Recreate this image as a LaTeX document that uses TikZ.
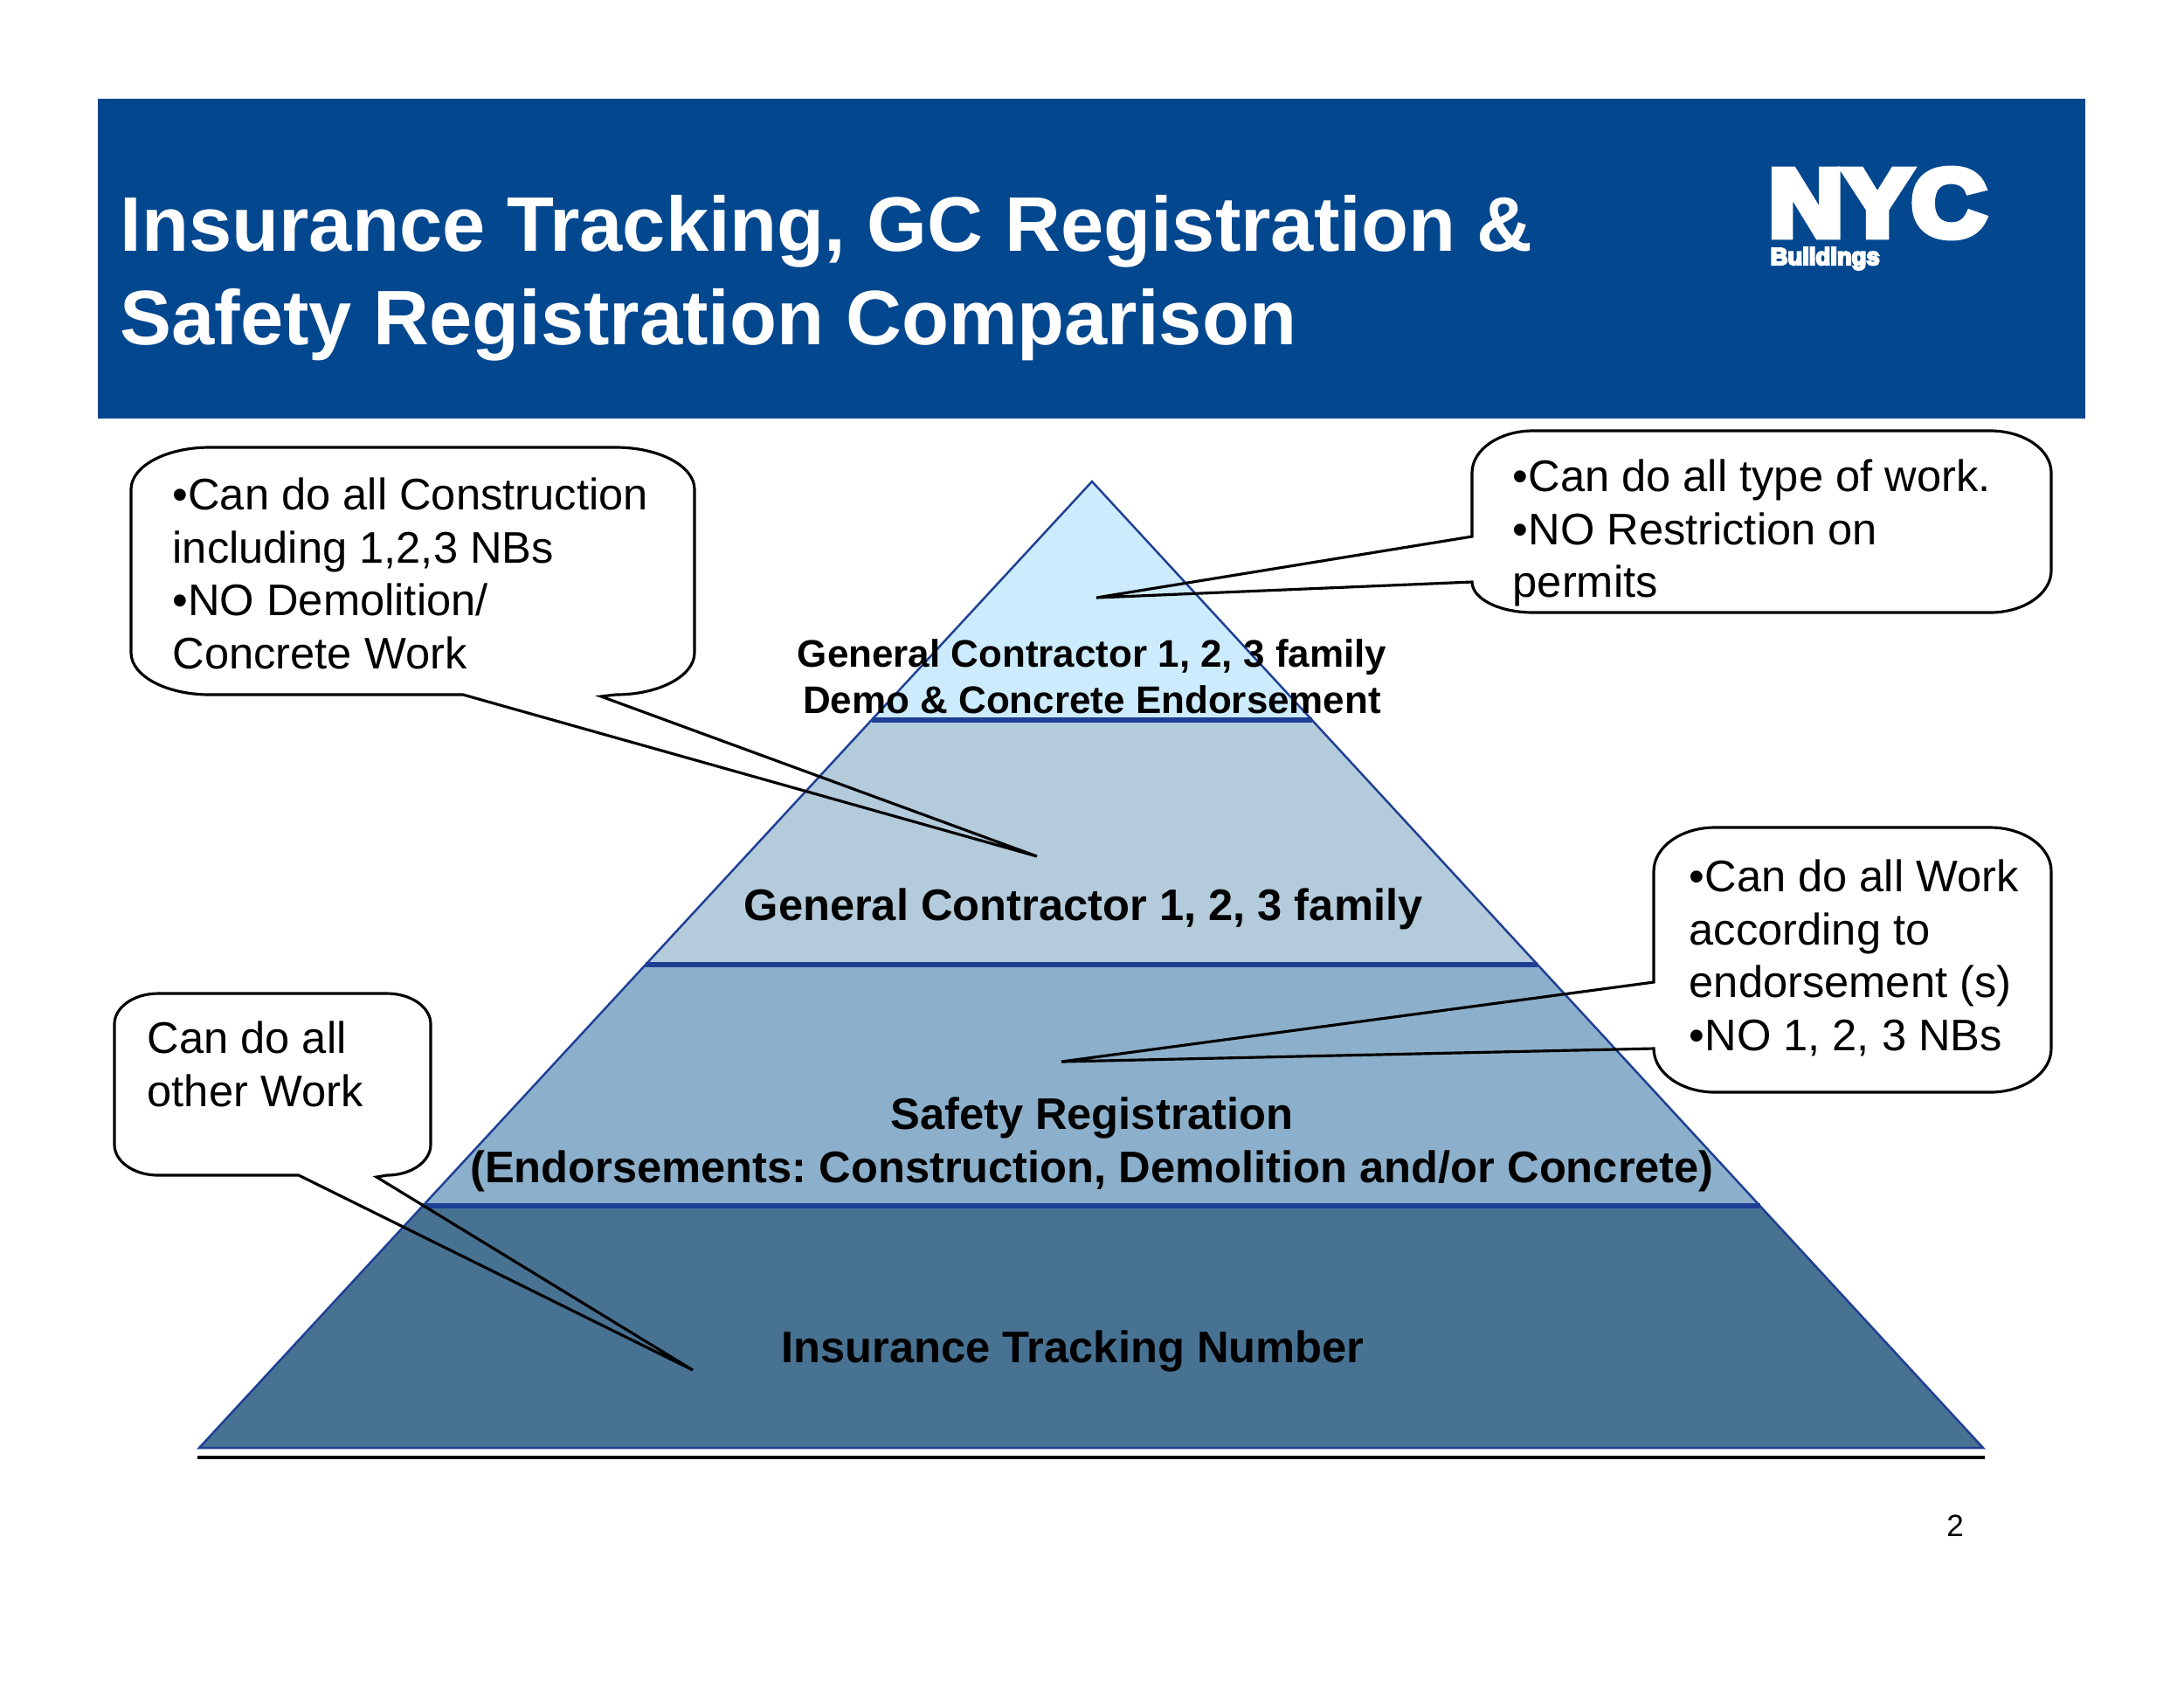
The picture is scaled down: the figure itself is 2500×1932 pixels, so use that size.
\documentclass[tikz,border=0pt]{standalone}
\usepackage{fontspec}
\setmainfont{Liberation Sans}
\newfontface\logofont[FakeBold=8]{Liberation Sans Bold}
\usetikzlibrary{calc}

\definecolor{bannerblue}{HTML}{03478F}
\definecolor{edgeblue}{HTML}{1F3F95}
\definecolor{tierone}{HTML}{CCEBFC}
\definecolor{tiertwo}{HTML}{B3CBDB}
\definecolor{tierthree}{HTML}{8CB0CB}
\definecolor{tierfour}{HTML}{487292}

\begin{document}
\frenchspacing
\begin{tikzpicture}[x=0.01cm,y=0.01cm]

 \tikzset{
    titletext/.style={anchor=base west,text=white,font=\bfseries\fontsize{25.15}{32}\selectfont,inner sep=0},
    tiertext/.style={anchor=base,align=center,font=\bfseries\fontsize{14.4}{17.2}\selectfont,inner sep=0},
    smalltier/.style={anchor=base,align=center,font=\bfseries\fontsize{12.5}{14.8}\selectfont,inner sep=0},
    bubbletext/.style={anchor=north west,align=left,font=\fontsize{14.4}{17.26}\selectfont,inner sep=0},
    bubble/.style={draw=black,line width=0.9pt,line join=miter},
    tierline/.style={draw=edgeblue,line width=1.6pt},
  }

  \useasboundingbox (0,0) rectangle (2500,-1932);
  \fill[white] (0,0) rectangle (2500,-1932);

  \fill[bannerblue] (112,-113) rectangle (2387,-479);
  \node[titletext] (titleone) at (137,-287) {Insurance Tracking, GC Registration \&};
  \node[titletext] (titletwo) at (137,-394) {Safety Registration Comparison};

  \node[anchor=base west,inner sep=0,text=white,font=\logofont\fontsize{31}{31}\selectfont,transform shape,xscale=1.08] (logonyc) at (2024,-270) {NYC};
  \node[anchor=base west,inner sep=0,text=white,font=\logofont\fontsize{7.8}{8}\selectfont] (logobldg) at (2026,-303) {Buildings};

  \coordinate (apex) at (1250,-551);
  \coordinate (baseleft) at (228,-1657);
  \coordinate (baseright) at (2270,-1657);
  \coordinate (oneL) at ($(apex)!0.2468!(baseleft)$);
  \coordinate (oneR) at ($(apex)!0.2468!(baseright)$);
  \coordinate (twoL) at ($(apex)!0.5!(baseleft)$);
  \coordinate (twoR) at ($(apex)!0.5!(baseright)$);
  \coordinate (threeL) at ($(apex)!0.7495!(baseleft)$);
  \coordinate (threeR) at ($(apex)!0.7495!(baseright)$);

  \fill[tierone] (apex) -- (oneR) -- (oneL) -- cycle;
  \fill[tiertwo] (oneL) -- (oneR) -- (twoR) -- (twoL) -- cycle;
  \fill[tierthree] (twoL) -- (twoR) -- (threeR) -- (threeL) -- cycle;
  \fill[tierfour] (threeL) -- (threeR) -- (baseright) -- (baseleft) -- cycle;

  \draw[draw=edgeblue,line width=0.7pt,line join=miter] (apex) -- (baseright) -- (baseleft) -- cycle;
  \draw[tierline] (oneL) -- (oneR);
  \draw[tierline] (twoL) -- (twoR);
  \draw[tierline] (threeL) -- (threeR);
  \draw[black,line width=1pt] (226,-1668) -- (2272,-1668);

  \node[smalltier] (labelone) at (1250,-816) {General Contractor 1, 2, 3 family\\Demo \& Concrete Endorsement};
  \node[tiertext] (labeltwo) at (1240,-1053) {General Contractor 1, 2, 3 family};
  \node[tiertext] (labelthree) at (1250,-1353) {Safety Registration\\(Endorsements: Construction, Demolition and/or Concrete)};
  \node[tiertext] (labelfour) at (1228,-1559) {Insurance Tracking Number};

  \coordinate (tipone) at (1255,-684);
  \coordinate (tiptwo) at (1187,-980);
  \coordinate (tipthree) at (1215,-1215);
  \coordinate (tipfour) at (793,-1568);

  \draw[bubble] (530,-795) -- (240,-795)
    arc[start angle=270,end angle=180,x radius=90,y radius=48] -- (150,-560)
    arc[start angle=180,end angle=90,x radius=90,y radius=48] -- (705,-512)
    arc[start angle=90,end angle=0,x radius=90,y radius=48] -- (795,-747)
    arc[start angle=0,end angle=-90,x radius=90,y radius=48] -- (688,-797) -- (tiptwo) -- cycle;
  \node[bubbletext] (bubbletwo) at (197,-546) {•Can do all Construction\\including 1,2,3 NBs\\•NO Demolition/\\Concrete Work};

  \draw[bubble] (1685,-614) -- (1685,-541)
    arc[start angle=180,end angle=90,x radius=70,y radius=48] -- (2278,-493)
    arc[start angle=90,end angle=0,x radius=70,y radius=48] -- (2348,-653)
    arc[start angle=0,end angle=-90,x radius=70,y radius=48] -- (1755,-701)
    arc[start angle=270,end angle=180,x radius=70,y radius=35] -- (tipone) -- cycle;
  \node[bubbletext] (bubbleone) at (1731,-525) {•Can do all type of work.\\•NO Restriction on\\permits};

  \draw[bubble] (1893,-1124) -- (1893,-997)
    arc[start angle=180,end angle=90,x radius=70,y radius=50] -- (2278,-947)
    arc[start angle=90,end angle=0,x radius=70,y radius=50] -- (2348,-1200)
    arc[start angle=0,end angle=-90,x radius=70,y radius=50] -- (1963,-1250)
    arc[start angle=270,end angle=180,x radius=70,y radius=50] -- (tipthree) -- cycle;
  \node[bubbletext] (bubblethree) at (1933,-983) {•Can do all Work\\according to\\endorsement (s)\\•NO 1, 2, 3 NBs};

  \draw[bubble] (342,-1345) -- (181,-1345)
    arc[start angle=270,end angle=180,x radius=50,y radius=35] -- (131,-1172)
    arc[start angle=180,end angle=90,x radius=50,y radius=35] -- (443,-1137)
    arc[start angle=90,end angle=0,x radius=50,y radius=35] -- (493,-1310)
    arc[start angle=0,end angle=-90,x radius=50,y radius=35] -- (431,-1347) -- (tipfour) -- cycle;
  \node[bubbletext] (bubblefour) at (168,-1168) {Can do all\\other Work};

  \node[anchor=base,inner sep=0,font=\fontsize{10}{12}\selectfont] (pagenum) at (2238,-1758) {2};
\end{tikzpicture}
\end{document}
